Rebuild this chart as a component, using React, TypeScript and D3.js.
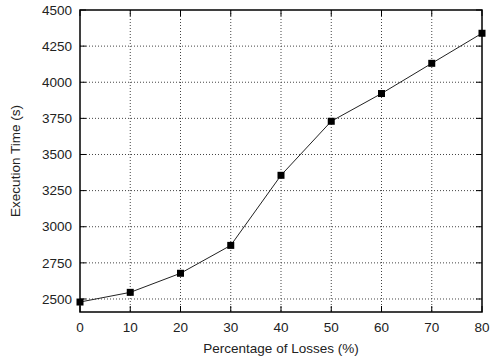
import React from 'react'
import { scaleLinear, line } from 'd3'

const losses = [0, 10, 20, 30, 40, 50, 60, 70, 80]
const execTime = [2479, 2546, 2678, 2871, 3356, 3730, 3922, 4131, 4339]
const yTicks = [2500, 2750, 3000, 3250, 3500, 3750, 4000, 4250, 4500]
const xTicks = [0, 10, 20, 30, 40, 50, 60, 70, 80]

function App() {
    // plot box
    let margin = {top: 10, right: 9, bottom: 51, left: 80},
        width = 491 - margin.left - margin.right,
        height = 363 - margin.top - margin.bottom

    const x = scaleLinear().domain([0, 80]).range([0, width])
    const y = scaleLinear().domain([2410, 4500]).range([height, 0])
    const path = line<number>()
        .x((d, i) => x(losses[i]))
        .y(d => y(d))(execTime)

    const font = 'Liberation Sans, Arial, sans-serif'

    return (
        <svg width={491} height={363} style={{position: 'absolute', left: 0, top: 0}}>
            <rect width={491} height={363} fill="white" />
            <g transform={`translate(${margin.left},${margin.top})`} fontFamily={font} fontSize={13.5}>
                {/* grid */}
                {yTicks.slice(0, -1).map(t => (
                    <line key={'gy' + t} x1={0} x2={width} y1={y(t)} y2={y(t)}
                          stroke="#444" strokeWidth={1} strokeDasharray="1,2" />
                ))}
                {xTicks.slice(1, -1).map(t => (
                    <line key={'gx' + t} x1={x(t)} x2={x(t)} y1={0} y2={height}
                          stroke="#444" strokeWidth={1} strokeDasharray="1,2" />
                ))}
                {/* ticks */}
                {yTicks.map(t => (
                    <g key={'ty' + t}>
                        <line x1={0} x2={6} y1={y(t)} y2={y(t)} stroke="black" />
                        <line x1={width - 6} x2={width} y1={y(t)} y2={y(t)} stroke="black" />
                        <text x={-8} y={y(t)} dy="0.35em" textAnchor="end" fill="#222">{t}</text>
                    </g>
                ))}
                {xTicks.map(t => (
                    <g key={'tx' + t}>
                        <line x1={x(t)} x2={x(t)} y1={height} y2={height - 6} stroke="black" />
                        <line x1={x(t)} x2={x(t)} y1={0} y2={6} stroke="black" />
                        <text x={x(t)} y={height + 20} textAnchor="middle" fill="#222">{t}</text>
                    </g>
                ))}
                <rect x={0} y={0} width={width} height={height} fill="none" stroke="black" strokeWidth={1.5} />
                <path d={path || ''} fill="none" stroke="#222" strokeWidth={1} />
                {execTime.map((v, i) => (
                    <rect key={'m' + i} x={x(losses[i]) - 3.5} y={y(v) - 3.5} width={7} height={7} fill="black" />
                ))}
                <text x={width / 2} y={height + 41} textAnchor="middle" fill="#222">Percentage of Losses (%)</text>
                <text transform={`translate(${-60},${height / 2}) rotate(-90)`} textAnchor="middle" fill="#222">Execution Time (s)</text>
            </g>
        </svg>
    )
}

export default App
